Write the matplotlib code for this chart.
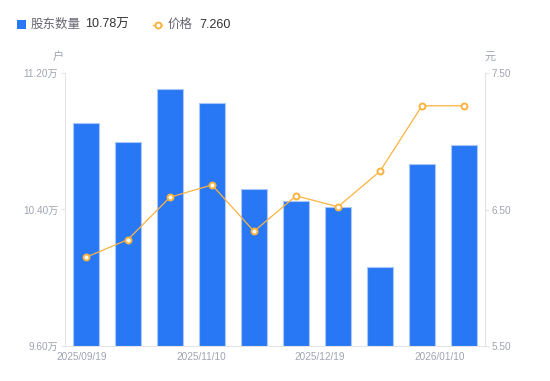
import matplotlib
matplotlib.use("Agg")
import matplotlib.pyplot as plt
import numpy as np
from matplotlib.lines import Line2D
from matplotlib.patches import Rectangle

plt.rcParams['font.family'] = ['Liberation Sans', 'Noto Sans CJK SC', 'DejaVu Sans']

holders = [10.905, 10.795, 11.106, 11.022, 10.52, 10.448, 10.415, 10.063, 10.664, 10.78]
price = [6.15, 6.28, 6.59, 6.68, 6.34, 6.60, 6.52, 6.78, 7.26, 7.26]
xtick_labels = ['2025/09/19', '2025/11/10', '2025/12/19', '2026/01/10']
xtick_pos = [-0.1, 2.74, 5.57, 8.42]
left_ticks = [9.60, 10.40, 11.20]
right_ticks = [5.50, 6.50, 7.50]

BLUE = '#2878F5'
ORANGE = '#FBB33F'
GRAY = '#A0A3B1'
AXC = '#E3E3E8'

fig = plt.figure(figsize=(5.5, 3.81), dpi=100)
ax = fig.add_axes([65/550, 1-346/381, 420/550, 273/381])
x = np.arange(len(holders))
ax.bar(x, holders, width=0.6, color=BLUE, edgecolor='#A9C8F8', linewidth=0.8, zorder=2)
ax.set_xlim(-0.5, len(holders)-0.5)
ax.set_ylim(left_ticks[0], left_ticks[-1])
ax.set_yticks(left_ticks)
ax.set_yticklabels([f'{v:.2f}万' for v in left_ticks])
ax.set_xticks(xtick_pos)
ax.set_xticklabels(xtick_labels)
ax.tick_params(axis='x', length=0, pad=4, labelsize=7.2, labelcolor=GRAY)
ax.tick_params(axis='y', length=3, width=0.8, color=AXC, pad=2, labelsize=7.2, labelcolor=GRAY)
for s in ['top', 'right']:
    ax.spines[s].set_visible(False)
for s in ['left', 'bottom']:
    ax.spines[s].set_color(AXC)
    ax.spines[s].set_linewidth(0.8)

ax2 = ax.twinx()
ax2.plot(x, price, color=ORANGE, linewidth=0.9, marker='o', markersize=4.3,
         markerfacecolor='white', markeredgecolor=ORANGE, markeredgewidth=1.4, zorder=3)
ax2.set_ylim(right_ticks[0], right_ticks[-1])
ax2.set_yticks(right_ticks)
ax2.set_yticklabels([f'{v:.2f}' for v in right_ticks])
ax2.tick_params(axis='y', length=3, width=0.8, color=AXC, pad=2, labelsize=7.2, labelcolor=GRAY)
for s in ['top', 'left', 'bottom']:
    ax2.spines[s].set_visible(False)
ax2.spines['right'].set_color(AXC)
ax2.spines['right'].set_linewidth(0.8)

fig.text(58/550, 1-57/381, '户', fontsize=8, color=GRAY, ha='center', va='center')
fig.text(490/550, 1-57/381, '元', fontsize=8, color=GRAY, ha='center', va='center')

# legend
fig.patches.append(Rectangle((17/550, 1-29/381), 9/550, 9/381, transform=fig.transFigure,
                             facecolor=BLUE, edgecolor='none'))
fig.text(31/550, 1-24.5/381, '股东数量', fontsize=9, color='#666672', ha='left', va='center')
fig.text(85/550, 1-24.5/381, f'{holders[-1]:.2f}万', fontsize=9, color='#333333', ha='left', va='center')
fig.lines.append(Line2D([153/550, 162/550], [1-24.5/381, 1-24.5/381], transform=fig.transFigure,
                        color=ORANGE, linewidth=1))
fig.lines.append(Line2D([157.5/550], [1-24.5/381], transform=fig.transFigure, color=ORANGE,
                        marker='o', markersize=4.3, markerfacecolor='white', markeredgewidth=1.4))
fig.text(168/550, 1-24.5/381, '价格', fontsize=9, color='#666672', ha='left', va='center')
fig.text(199/550, 1-24.5/381, f'{price[-1]:.3f}', fontsize=9, color='#333333', ha='left', va='center')

fig.savefig('out.png', dpi=100)
